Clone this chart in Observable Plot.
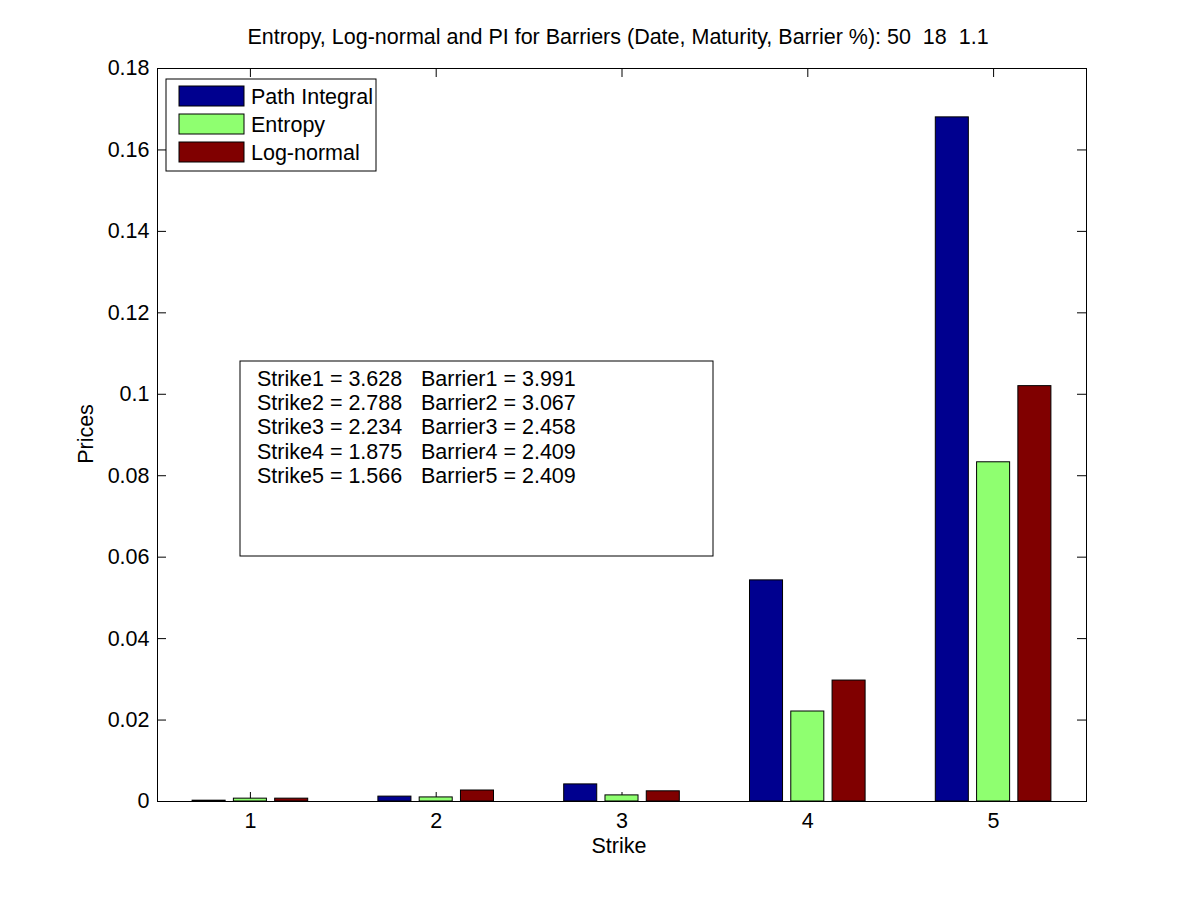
<!DOCTYPE html>
<html><head><meta charset="utf-8">
<script src="https://cdn.jsdelivr.net/npm/d3@7"></script>
<script src="https://cdn.jsdelivr.net/npm/@observablehq/plot@0.6"></script>
<style>body{margin:0;background:#fff;} #chart{width:1200px;height:900px;}</style>
</head><body><div id="chart"></div>
<script>
// ---- data ----
const strikes = [1, 2, 3, 4, 5];
const seriesNames = ["Path Integral", "Entropy", "Log-normal"];
const pathIntegral = [0.0002, 0.0012, 0.0042, 0.0543, 0.1680];
const entropy      = [0.0007, 0.0010, 0.0015, 0.0221, 0.0833];
const logNormal    = [0.0007, 0.0027, 0.0025, 0.0297, 0.1020];
const seriesColors = ["#00008F", "#8FFF70", "#800000"];
const xTicks = [1, 2, 3, 4, 5];
const yTicks = [0, 0.02, 0.04, 0.06, 0.08, 0.1, 0.12, 0.14, 0.16, 0.18];
const strikeValues  = ["3.628", "2.788", "2.234", "1.875", "1.566"];
const barrierValues = ["3.991", "3.067", "2.458", "2.409", "2.409"];
const titleText = "Entropy, Log-normal and PI for Barriers (Date, Maturity, Barrier %): 50  18  1.1";
const xLabel = "Strike";
const yLabel = "Prices";

// ---- build table ----
const seriesValues = [pathIntegral, entropy, logNormal];
const rows = [];
strikes.forEach((s, i) => seriesValues.forEach((vals, j) =>
  rows.push({strike: s, k: j, series: seriesNames[j], value: vals[i]})));

const groupOffset = 0.2222, barWidth = 0.1778;
const FONT = 'Arial, "Liberation Sans", Helvetica, sans-serif';
const FS = 21.5;
const W = 1200, H = 900, mL = 157, mR = 114, mT = 68, mB = 99;
const yMax = 0.18, xMin = 0.5, xMax = 5.5;
const tickLenY = 9 / ((H - mT - mB) / yMax);
const tickLenX = 9 / ((W - mL - mR) / (xMax - xMin));

const plot = Plot.plot({
  width: W, height: H,
  marginLeft: mL, marginRight: mR, marginTop: mT, marginBottom: mB,
  style: {fontFamily: FONT, fontSize: FS + "px", background: "#fff", color: "#000", overflow: "visible"},
  x: {domain: [xMin, xMax]},
  y: {domain: [0, yMax]},
  color: {domain: seriesNames, range: seriesColors},
  marks: [
    Plot.ruleX(xTicks, {x: d => d, y1: 0, y2: tickLenY, stroke: "#000"}),
    Plot.ruleX(xTicks, {x: d => d, y1: yMax, y2: yMax - tickLenY, stroke: "#000"}),
    Plot.ruleY(yTicks, {y: d => d, x1: xMin, x2: xMin + tickLenX, stroke: "#000"}),
    Plot.ruleY(yTicks, {y: d => d, x1: xMax - tickLenX, x2: xMax, stroke: "#000"}),
    Plot.rect(rows, {
      x1: d => d.strike + (d.k - 1) * groupOffset - barWidth / 2,
      x2: d => d.strike + (d.k - 1) * groupOffset + barWidth / 2,
      y1: 0, y2: "value", fill: "series", stroke: "#000", strokeWidth: 1
    }),
    Plot.frame({stroke: "#000"}),
    Plot.axisX({ticks: xTicks, tickSize: 0, tickPadding: 11, label: null, fontSize: FS,
      tickFormat: d => String(d)}),
    Plot.axisY({ticks: yTicks, tickSize: 0, tickPadding: 8, label: null, fontSize: FS,
      tickFormat: d => String(+d.toFixed(2))})
  ]
});
document.getElementById("chart").appendChild(plot);

const svg = d3.select(plot);
const g = svg.append("g").attr("font-family", FONT).attr("fill", "#000")
  .attr("text-anchor", "start").attr("font-size", FS);

// title
g.append("text").attr("x", 618).attr("y", 44).attr("text-anchor", "middle")
  .style("white-space", "pre").text(titleText);
// axis labels
g.append("text").attr("x", 619).attr("y", 853).attr("text-anchor", "middle").text(xLabel);
g.append("text").attr("transform", "translate(93,434) rotate(-90)").attr("text-anchor", "middle")
  .text(yLabel);

// legend
const lg = g.append("g");
lg.append("rect").attr("x", 166).attr("y", 79).attr("width", 210).attr("height", 92)
  .attr("fill", "#fff").attr("stroke", "#000");
seriesNames.forEach((name, i) => {
  lg.append("rect").attr("x", 179).attr("y", 86 + i * 28).attr("width", 65).attr("height", 20)
    .attr("fill", seriesColors[i]).attr("stroke", "#000");
  lg.append("text").attr("x", 251).attr("y", 104 + i * 28).text(name);
});

// annotation box
const ab = g.append("g");
ab.append("rect").attr("x", 240).attr("y", 361).attr("width", 473).attr("height", 195)
  .attr("fill", "#fff").attr("stroke", "#000");
strikeValues.forEach((sv, i) => {
  ab.append("text").attr("x", 257).attr("y", 386 + i * 24.2).text(`Strike${i + 1} = ${sv}`);
  ab.append("text").attr("x", 421).attr("y", 386 + i * 24.2).text(`Barrier${i + 1} = ${barrierValues[i]}`);
});
</script>
</body></html>
